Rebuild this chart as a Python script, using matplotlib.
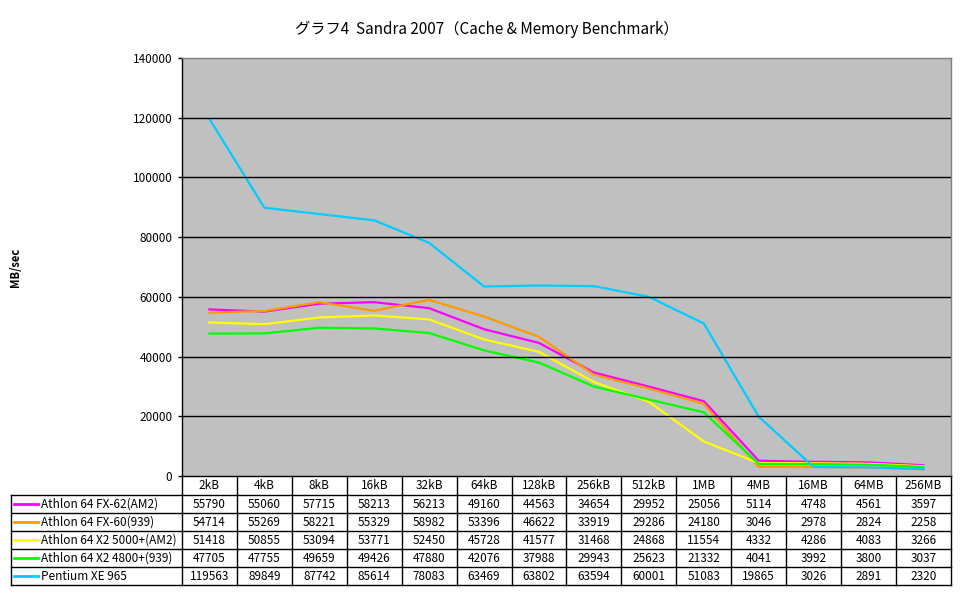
import matplotlib
matplotlib.use("Agg")
import matplotlib.pyplot as plt

plt.rcParams['font.family'] = ['Noto Sans CJK JP', 'DejaVu Sans']

# datos del gráfico (MB/sec)
sizes = ['2kB', '4kB', '8kB', '16kB', '32kB', '64kB', '128kB', '256kB',
         '512kB', '1MB', '4MB', '16MB', '64MB', '256MB']

cpu_names = ['Athlon 64 FX-62(AM2)', 'Athlon 64 FX-60(939)',
             'Athlon 64 X2 5000+(AM2)', 'Athlon 64 X2 4800+(939)',
             'Pentium XE 965']

fx62 = [55790, 55060, 57715, 58213, 56213, 49160, 44563, 34654, 29952, 25056, 5114, 4748, 4561, 3597]
fx60 = [54714, 55269, 58221, 55329, 58982, 53396, 46622, 33919, 29286, 24180, 3046, 2978, 2824, 2258]
x2_5000 = [51418, 50855, 53094, 53771, 52450, 45728, 41577, 31468, 24868, 11554, 4332, 4286, 4083, 3266]
x2_4800 = [47705, 47755, 49659, 49426, 47880, 42076, 37988, 29943, 25623, 21332, 4041, 3992, 3800, 3037]
pentium = [119563, 89849, 87742, 85614, 78083, 63469, 63802, 63594, 60001, 51083, 19865, 3026, 2891, 2320]

colors = ['#FF00FF', '#FF9900', '#FFFF00', '#00FF00', '#00CCFF']
series = [fx62, fx60, x2_5000, x2_4800, pentium]

W, H = 970, 604
fig = plt.figure(figsize=(W / 100, H / 100), dpi=100)

# área del gráfico en píxeles
left, right, top, bottom = 182, 951, 58, 476
ax = fig.add_axes([left / W, 1 - bottom / H, (right - left) / W, (bottom - top) / H])
ax.set_facecolor('#C0C0C0')

n = len(sizes)
xs = list(range(n))
for vals, c in zip(series, colors):
    ax.plot(xs, vals, color=c, lw=1.6, solid_joinstyle='round')

ax.set_xlim(-0.5, n - 0.5)
ax.set_ylim(0, 140000)
ax.set_yticks(range(0, 140001, 20000))
ax.set_xticks([])
ax.tick_params(axis='y', length=3, width=1, labelsize=8.5, pad=4)
for y in range(20000, 140000, 20000):
    ax.axhline(y, color='black', lw=1)
ax.spines['left'].set_color('black')
ax.spines['bottom'].set_color('black')
ax.spines['top'].set_color('#808080')
ax.spines['right'].set_color('#808080')
for s in ax.spines.values():
    s.set_linewidth(1)

fig.text(487 / W, 1 - 29 / H, 'グラフ4  Sandra 2007（Cache & Memory Benchmark）',
         ha='center', va='center', fontsize=11)
fig.text(16 / W, 1 - 267 / H, 'MB/sec', rotation=90, ha='center', va='center',
         fontsize=8, fontweight='bold')

# tabla de datos debajo del gráfico
t_left, t_bottom = 11, 585
header_h = 19
row_h = (t_bottom - bottom - header_h) / len(series)
tab = fig.add_axes([0, 0, 1, 1])
tab.set_xlim(0, W)
tab.set_ylim(H, 0)
tab.axis('off')

colw = (right - left) / n
lc = 'black'
# líneas horizontales
tab.plot([t_left, right], [bottom + header_h] * 2, color=lc, lw=1)
for i in range(1, len(series) + 1):
    yy = bottom + header_h + i * row_h
    tab.plot([t_left, right], [yy, yy], color=lc, lw=1)
# líneas verticales
tab.plot([t_left, t_left], [bottom + header_h, t_bottom], color=lc, lw=1)
tab.plot([left, left], [bottom, t_bottom], color=lc, lw=1)
for j in range(1, n + 1):
    xx = left + j * colw
    tab.plot([xx, xx], [bottom, t_bottom], color=lc, lw=1)

for j, s in enumerate(sizes):
    tab.text(left + (j + 0.5) * colw, bottom + header_h / 2, s,
             ha='center', va='center', fontsize=8.5)

for i, (name, vals, c) in enumerate(zip(cpu_names, series, colors)):
    yc = bottom + header_h + (i + 0.5) * row_h
    tab.plot([14, 38], [yc, yc], color=c, lw=2)
    tab.text(41, yc, name, ha='left', va='center', fontsize=8.5)
    for j, v in enumerate(vals):
        tab.text(left + (j + 0.5) * colw, yc, str(v), ha='center', va='center', fontsize=8.5)

fig.savefig('out.png', dpi=100)
